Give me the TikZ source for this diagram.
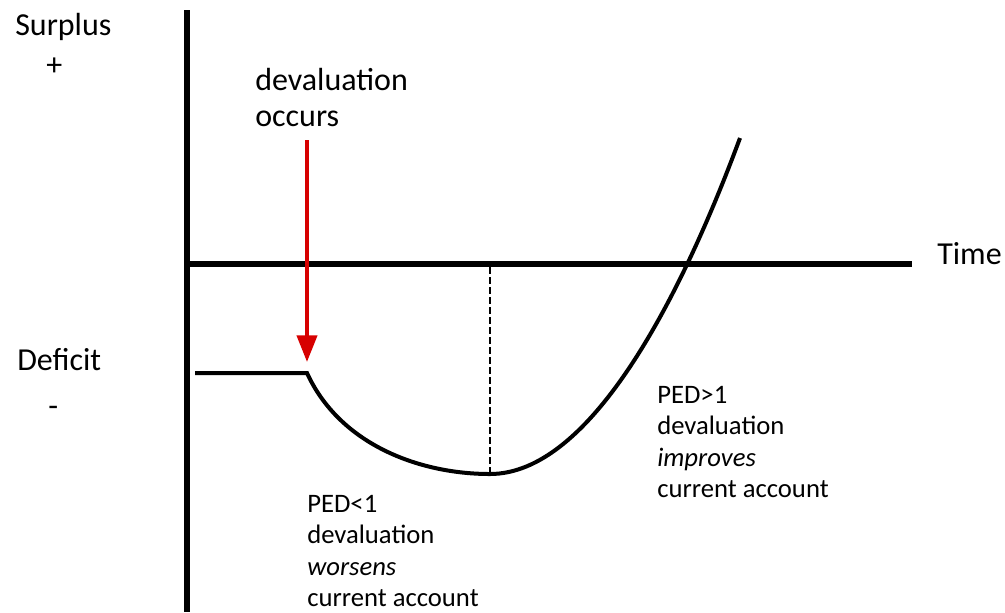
\documentclass[tikz,border=0pt]{standalone}
\usepackage{fontspec}
\setmainfont{Carlito}
\usetikzlibrary{arrows.meta}
\definecolor{dropRed}{RGB}{215,0,0}

\begin{document}
\begin{tikzpicture}
[%
    x=0.75pt,
    y=-0.75pt,
    axis/.style={
      line width=5pt
    },
    curve/.style={
      line width=3pt
    },
    caption/.style={
      inner sep=0pt,
      anchor=base west,
      font=\fontsize{24}{27}\selectfont
    },
    note/.style={
      inner sep=0pt,
      align=left,
      anchor=north west,
      font=\fontsize{20}{23.6}\selectfont
    },
    drop/.style={
      draw=dropRed,
      line width=3pt,
      -{Triangle[width=15pt,length=20pt]}
    }
  ]
  \useasboundingbox (0,0) rectangle (1005,612);
  %Axes
  \coordinate (top) at (187,10);
  \coordinate (bottom) at (187,612);
  \coordinate (origin) at (187,264);
  \coordinate (tend) at (912,264);
  \draw[axis] (top) -- (bottom);
  \draw[axis] (origin) -- (tend);
  \draw (15,35) node[caption] (surplus) {Surplus};
  \draw (46,75) node[caption] (plus) {+};
  \draw (17,370) node[caption] (deficit) {Deficit};
  \draw (48,416) node[caption] (minus) {-};
  \draw (937,264) node[caption] (time) {Time};

  %Current account path
  \coordinate (start) at (195,373);
  \coordinate (kink) at (307,373);
  \coordinate (low) at (490,474);
  \coordinate (high) at (740,138);
  \coordinate (lowaxis) at (490,267);
  \draw[curve] (start) -- (kink) .. controls (340,445) and (420,474) .. (low)
    .. controls (590,474) and (680,300) .. (high);
  \draw[line width=1.3pt,dash pattern=on 5pt off 2.5pt] (lowaxis) -- (low);

  %Devaluation
  \draw (255,126) node[caption,align=left] (occurs) {devaluation\\occurs};
  \coordinate (arrowtop) at (307,140);
  \coordinate (arrowtip) at (307,362);
  \draw[drop] (arrowtop) -- (arrowtip);

  %Notes
  \draw (307,495) node[note] (worse) {PED<1\\devaluation\\\textit{worsens}\\current account};
  \draw (657,386) node[note] (better) {PED>1\\devaluation\\\textit{improves}\\current account};
\end{tikzpicture}
\end{document}
